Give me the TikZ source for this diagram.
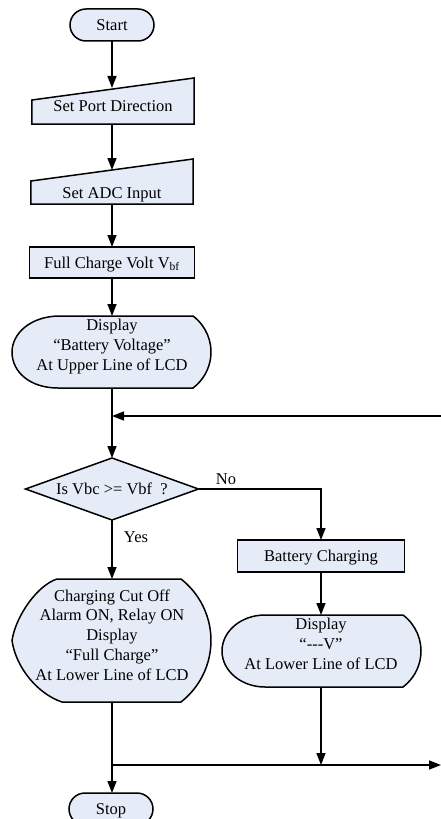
\documentclass[tikz,border=0pt]{standalone}
\usepackage{fontspec}
\setmainfont{Liberation Serif}
\usetikzlibrary{arrows.meta,calc,backgrounds}
\definecolor{boxfill}{RGB}{229,236,247}
\begin{document}
\begin{tikzpicture}[x=1bp,y=-1bp,
  every node/.style={font=\fontsize{16.5bp}{19.8bp}\selectfont, inner sep=0pt, outer sep=0pt},
  one/.style={text height=11bp, text depth=0pt, align=center},
  shp/.style={draw=black, line width=1.5bp, fill=boxfill},
  term/.style={shp, rounded corners=16bp, minimum width=84bp, minimum height=32bp, one},
  procbox/.style={shp, minimum height=31bp, one},
  hold/.style={draw=none},
  txt/.style={align=center},
  arr/.style={draw=black, line width=1.5bp, -{Triangle[length=12bp,width=9bp]}}]
\useasboundingbox (0,0) rectangle (441,819);
% nodes
\node[term] (start) at (112,25) {Start};
\node[hold, minimum width=162bp, minimum height=36bp, one] (spd) at (113,106) {Set Port Direction};
\node[hold, minimum width=162bp, minimum height=23bp, one] (adc) at (112,192.5) {Set ADC Input};
\coordinate (adcin) at ($(adc.north west)!0.5!(adc.north east)+(0,-11)$);
\node[procbox, minimum width=165bp] (fcv) at (112,262.5) {Full Charge Volt V\textsubscript{bf}};
\node[hold, minimum width=199bp, minimum height=72bp] (disp1) at (112,352) {};
\node[txt] (disp1t) at (112,346.7) {Display\\“Battery Voltage”\\At Upper Line of LCD};
\node[hold, minimum width=173bp, minimum height=62bp, one] (dec) at (112,489) {Is Vbc >= Vbf~~?};
\node[procbox, minimum width=167bp, minimum height=32bp] (bc) at (321,556) {Battery Charging};
\node[hold, minimum width=199bp, minimum height=72bp] (disp2) at (321,651) {};
\node[txt] (disp2t) at (321,644) {Display\\“-{}-{}-V”\\At Lower Line of LCD};
\node[hold, minimum width=199bp, minimum height=123bp] (disp3) at (112,640.5) {};
\node[txt] (disp3t) at (112,635) {Charging Cut Off\\Alarm ON, Relay ON\\Display\\“Full Charge”\\At Lower Line of LCD};
\node[term] (stop) at (111,809) {Stop};
\node[one] (no) at (226,479) {No};
\node[one] (yes) at (136,537) {Yes};
\coordinate (fbr) at (441,416);
\coordinate (mr) at (441,765);
% outlines
\begin{pgfonlayer}{background}
\fill[white] (0,0) rectangle (441,819);
\path[shp] (spd.south west) -- (spd.south east) -- ($(spd.north east)+(0,-10)$) -- ($(spd.north west)+(0,12)$) -- cycle;
\path[shp] (adc.south west) -- (adc.south east) -- ($(adc.north east)+(0,-22)$) -- (adc.north west) -- cycle;
\path[shp] (dec.north) -- (dec.east) -- (dec.south) -- (dec.west) -- cycle;
\path[shp] (60,316) -- (193,316) arc[start angle=-53.13, end angle=53.13, radius=45] -- (58,388) .. controls (30,388) and (12,372) .. (12,352) .. controls (12,334) and (30,316) .. (60,316) -- cycle;
\path[shp] (265,615) -- (403,615) arc[start angle=-53.13, end angle=53.13, radius=45] -- (265,687) arc[start angle=90, end angle=270, x radius=43, y radius=36] -- cycle;
\path[shp] (57,579) -- (181,579) arc[start angle=-52, end angle=52, radius=78.04] -- (62,702) .. controls (38,694) and (16,668) .. (12,640.5) .. controls (16,615) and (38,585) .. (57,579) -- cycle;
\end{pgfonlayer}
% connectors
\draw[arr] (start.south) -- (start.south |- spd.north);
\draw[arr] (spd.south -| adcin) -- (adcin);
\draw[arr] (adc.south) -- (fcv.north);
\draw[arr] (fcv.south) -- (disp1.north);
\draw[arr] (disp1.south) -- (dec.north);
\draw[arr] (fbr) -- (fbr -| disp1.south);
\draw[arr] (dec.east) -| (bc.north);
\draw[arr] (dec.south) -- (disp3.north);
\draw[arr] (bc.south) -- (disp2.north);
\draw[arr] (disp2.south) -- (disp2.south |- mr);
\draw[arr] (disp3.south |- mr) -- (mr);
\draw[arr] (disp3.south) -- (disp3.south |- stop.north);
\end{tikzpicture}
\end{document}
